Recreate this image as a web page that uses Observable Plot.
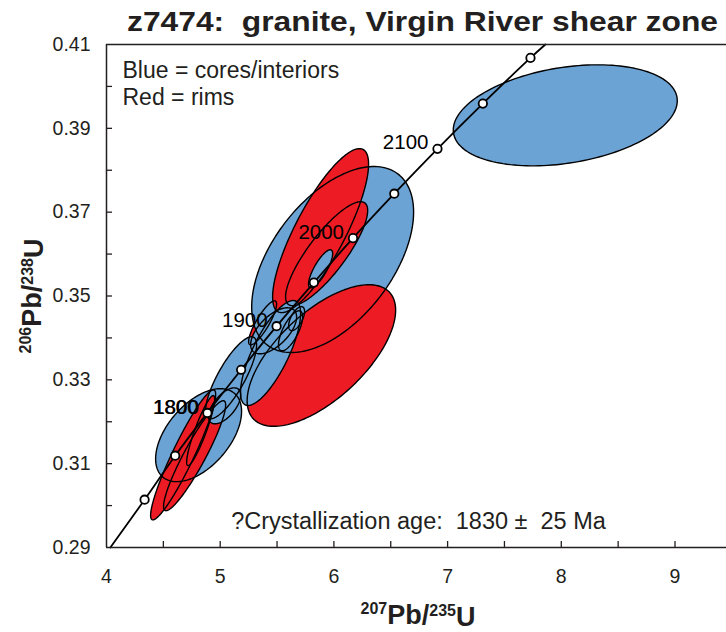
<!DOCTYPE html>
<html><head><meta charset="utf-8">
<script src="https://cdn.jsdelivr.net/npm/d3@7"></script>
<script src="https://cdn.jsdelivr.net/npm/@observablehq/plot@0.6"></script>
<style>
body{margin:0;background:#fff;}
#chart{width:726px;height:632px;}
</style></head><body><div id="chart"></div>
<script>
// Concordia reference points (age in Ma, 207Pb/235U, 206Pb/238U)
const concordiaAges = [1700, 1750, 1800, 1850, 1900, 1950, 2000, 2050, 2100, 2150, 2200];
const concordiaX = [4.335, 4.604, 4.887, 5.184, 5.496, 5.824, 6.168, 6.531, 6.911, 7.310, 7.729];
const concordiaY = [0.3014, 0.3119, 0.3221, 0.3324, 0.3428, 0.3532, 0.3638, 0.3744, 0.3851, 0.3959, 0.4068];
const concordiaLabels = ["", "", "1800", "", "1900", "", "2000", "", "2100", "", ""];
// Concordia curve ends where it leaves the frame
const curveStart = [4.034, 0.29];
const curveEnd = [7.86, 0.41];

// Error ellipses (draw order), centre, half-extent, error correlation
const ellipseType = ["rim", "core", "core", "rim", "rim", "core", "rim", "core", "rim", "rim", "core", "core", "core", "rim", "core", "core", "core"];
const ellipseX    = [5.373, 5.989, 8.035, 5.890, 5.883, 4.810, 5.936, 5.443, 4.674, 4.775, 5.096, 5.470, 5.039, 4.828, 5.619, 5.883, 5.672];
const ellipseXErr = [0.123, 0.712, 0.985, 0.653, 0.422, 0.378, 0.361, 0.264, 0.286, 0.273, 0.224, 0.202, 0.141, 0.123, 0.106, 0.106, 0.070];
const ellipseY    = [0.3436, 0.3587, 0.3931, 0.3358, 0.3656, 0.3168, 0.3601, 0.3364, 0.3121, 0.3119, 0.3305, 0.3417, 0.3238, 0.3179, 0.3417, 0.3565, 0.3446];
const ellipseYErr = [0.00525, 0.02219, 0.01205, 0.01689, 0.01956, 0.01109, 0.0124, 0.01252, 0.01551, 0.01312, 0.00978, 0.00549, 0.00429, 0.00835, 0.00477, 0.00453, 0.00286];
const ellipseRho  = [0.85, 0.51, 0.29, 0.64, 0.81, 0.51, 0.83, 0.75, 0.93, 0.92, 0.80, 0.60, 0.60, 0.90, 0.70, 0.80, 0.60];
const typeColor = {core: "#6ca3d5", rim: "#ed1c24"};

// Axes
const xTickLabels = [4, 5, 6, 7, 8, 9];
const xTicks = [4.5, 5, 5.5, 6, 6.5, 7, 7.5, 8, 8.5, 9];
const yTickLabels = [0.29, 0.31, 0.33, 0.35, 0.37, 0.39, 0.41];
const yTicks = [0.30, 0.31, 0.32, 0.33, 0.34, 0.35, 0.36, 0.37, 0.38, 0.39, 0.40];

const titleText = "z7474:  granite, Virgin River shear zone";
const legendLines = ["Blue = cores/interiors", "Red = rims"];
const noteText = "?Crystallization age:  1830 \u00b1  25 Ma";

const ink = "#231f20";
const font = "'Liberation Sans', Arial, sans-serif";

function ellipsePoints(i) {
  const n = 160, r = ellipseRho[i], q = Math.sqrt(1 - r * r);
  return d3.range(n).map(k => {
    const t = 2 * Math.PI * k / n;
    return {x: ellipseX[i] + ellipseXErr[i] * Math.cos(t),
            y: ellipseY[i] + ellipseYErr[i] * (r * Math.cos(t) + q * Math.sin(t))};
  });
}
const ellipses = ellipseX.map((_, i) => ({pts: ellipsePoints(i), color: typeColor[ellipseType[i]]}));

const points = concordiaAges.map((a, i) => ({age: a, x: concordiaX[i], y: concordiaY[i], label: concordiaLabels[i]}));
const curve = [{x: curveStart[0], y: curveStart[1]}, ...points, {x: curveEnd[0], y: curveEnd[1]}];

const plot = Plot.plot({
  width: 726, height: 632,
  marginTop: 44, marginBottom: 85, marginLeft: 106, marginRight: 0,
  x: {domain: [4, 9.453], axis: null},
  y: {domain: [0.29, 0.41], axis: null},
  style: {fontFamily: font, color: ink, background: "white", overflow: "visible"},
  marks: [
    ...ellipses.map(e => Plot.line(e.pts, {x: "x", y: "y", fill: e.color, stroke: "none", curve: "linear-closed", clip: true})),
    ...ellipses.map(e => Plot.line(e.pts, {x: "x", y: "y", fill: "none", stroke: "#000", strokeWidth: 1.4, curve: "linear-closed", clip: true})),
    Plot.line(curve, {x: "x", y: "y", stroke: "#000", strokeWidth: 1.8, curve: "catmull-rom"}),
    Plot.dot(points, {x: "x", y: "y", r: 4.2, fill: "white", stroke: "#000", strokeWidth: 1.8}),
    Plot.text(points.filter(d => d.label), {x: "x", y: "y", text: "label", dx: -9, dy: -6, textAnchor: "end", lineAnchor: "middle", fontSize: 20.5, fill: "#000"}),
    Plot.text(points.filter(d => d.age === 1800), {x: "x", y: "y", text: "label", dx: -8.3, dy: -6, textAnchor: "end", lineAnchor: "middle", fontSize: 20.5, fill: "#000"}),
    Plot.ruleX([4], {stroke: ink, strokeWidth: 1.5}),
    Plot.ruleY([0.29, 0.41], {stroke: ink, strokeWidth: 1.5}),
    Plot.tickX(xTicks, {x: d => d, insetTop: 497, stroke: ink, strokeWidth: 1.3}),
    Plot.tickY(yTicks, {y: d => d, insetRight: 614, stroke: ink, strokeWidth: 1.3}),
    Plot.text(xTickLabels, {x: d => d, frameAnchor: "bottom", dy: 29, lineAnchor: "middle", text: d => String(d), fontSize: 19.5, fill: ink}),
    Plot.text(yTickLabels, {y: d => d, frameAnchor: "left", dx: -16, textAnchor: "end", lineAnchor: "middle", text: d => d.toFixed(2), fontSize: 19.5, fill: ink}),
    Plot.text([legendLines[0]], {frameAnchor: "top-left", dx: 16, dy: 26, text: d => d, textAnchor: "start", lineAnchor: "middle", fontSize: 23, fill: ink}),
    Plot.text([legendLines[1]], {frameAnchor: "top-left", dx: 16, dy: 53, text: d => d, textAnchor: "start", lineAnchor: "middle", fontSize: 23, fill: ink}),
    Plot.text([noteText], {frameAnchor: "bottom", dx: 2, dy: -26, text: d => d, lineAnchor: "middle", fontSize: 23.5, fill: ink})
  ]
});

const svg = d3.select(plot);
svg.append("text")
  .attr("x", 127).attr("y", 31).attr("text-anchor", "start")
  .attr("font-size", 28).attr("font-weight", "bold").attr("fill", ink)
  .attr("font-family", font)
  .attr("textLength", 591).attr("lengthAdjust", "spacingAndGlyphs")
  .text(titleText);

function axisLabel(sel, a, b) {
  sel.append("tspan").attr("font-size", 16).attr("dy", "-0.55em").text(a);
  sel.append("tspan").attr("font-size", 27).attr("dy", "0.38em").text("Pb/");
  sel.append("tspan").attr("font-size", 16).attr("dy", "-0.55em").text(b);
  sel.append("tspan").attr("font-size", 27).attr("dy", "0.38em").text("U");
}
const xl = svg.append("text").attr("x", 418).attr("y", 623).attr("text-anchor", "middle")
  .attr("font-weight", "bold").attr("fill", ink).attr("font-family", font);
axisLabel(xl, "207", "235");
const yl = svg.append("text").attr("transform", "translate(40,296) rotate(-90)").attr("text-anchor", "middle")
  .attr("font-weight", "bold").attr("fill", ink).attr("font-family", font);
axisLabel(yl, "206", "238");

document.getElementById("chart").appendChild(plot);
</script></body></html>
